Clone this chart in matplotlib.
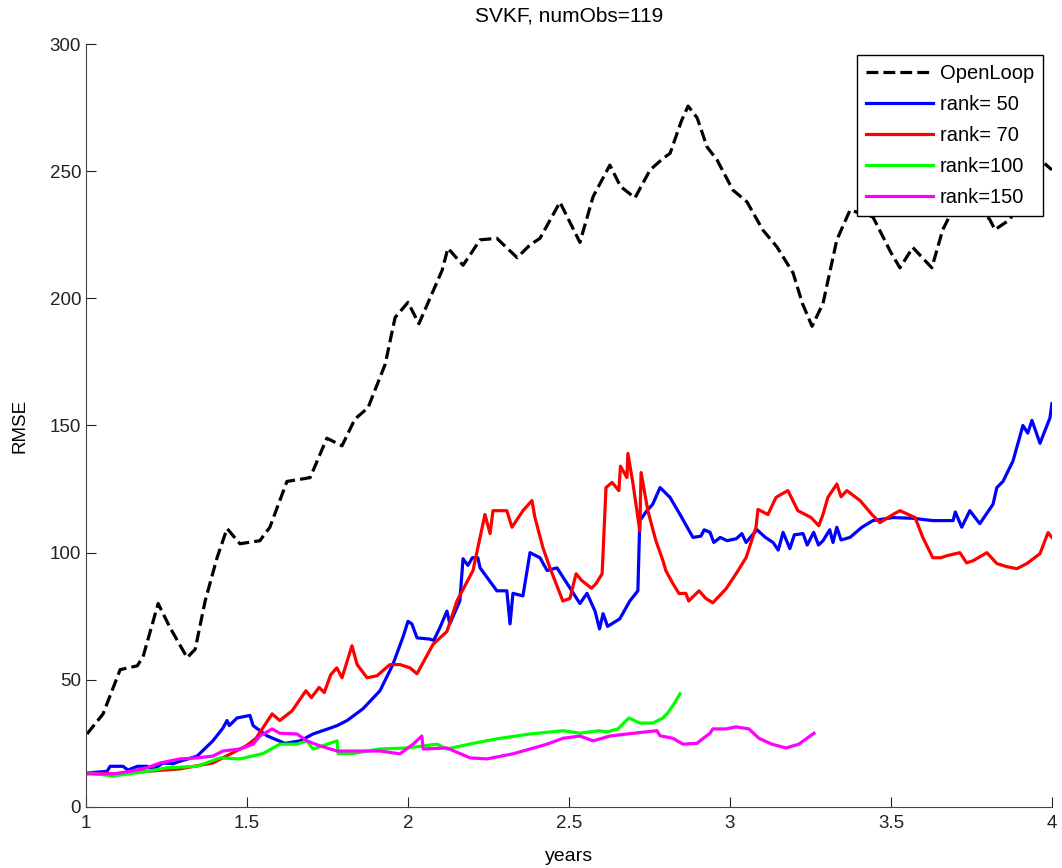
import matplotlib.pyplot as plt

plt.rcParams['font.family'] = ['Liberation Sans', 'DejaVu Sans']

# (years, RMSE) samples for each run
openloop = [(1.003, 28.7), (1.053, 36.6), (1.106, 54.0), (1.159, 55.5), (1.177, 59.0),
            (1.224, 80.0), (1.261, 70.5), (1.314, 58.7), (1.339, 62.0), (1.370, 81.0),
            (1.407, 98.0), (1.438, 109.5), (1.478, 103.5), (1.540, 104.7), (1.571, 110.0),
            (1.624, 128.0), (1.696, 129.5), (1.748, 145.0), (1.795, 142.0), (1.835, 152.5),
            (1.876, 157.0), (1.929, 174.0), (1.960, 192.5), (2.000, 198.4), (2.034, 190.0),
            (2.075, 202.0), (2.106, 211.0), (2.124, 219.7), (2.171, 213.0), (2.224, 223.0),
            (2.276, 223.6), (2.339, 216.0), (2.379, 221.0), (2.410, 223.6), (2.472, 237.8),
            (2.534, 222.0), (2.575, 240.0), (2.627, 252.4), (2.660, 244.0), (2.705, 239.5),
            (2.752, 250.5), (2.792, 255.0), (2.814, 257.0), (2.850, 270.0), (2.870, 275.6),
            (2.898, 271.0), (2.929, 259.5), (2.960, 254.4), (3.009, 242.6), (3.053, 237.9),
            (3.102, 226.9), (3.146, 220.2), (3.196, 210.0), (3.225, 198.0), (3.255, 189.0),
            (3.289, 198.0), (3.332, 223.0), (3.373, 234.7), (3.444, 232.0), (3.500, 218.0),
            (3.528, 212.0), (3.568, 220.0), (3.627, 212.0), (3.661, 227.0), (3.693, 235.0),
            (3.750, 239.0), (3.807, 231.0), (3.823, 227.0), (3.870, 231.0), (3.930, 246.0),
            (3.972, 253.6), (4.000, 250.5)]

rank50 = [(1.003, 13.4), (1.065, 14.0), (1.075, 16.0), (1.115, 16.0), (1.130, 14.5),
          (1.160, 16.0), (1.189, 16.0), (1.210, 14.8), (1.239, 17.3), (1.270, 17.0),
          (1.292, 18.0), (1.320, 19.0), (1.345, 20.0), (1.394, 26.0), (1.425, 31.0),
          (1.438, 34.0), (1.445, 32.0), (1.469, 35.0), (1.509, 36.0), (1.519, 32.0),
          (1.562, 28.0), (1.618, 25.0), (1.665, 26.0), (1.705, 28.7), (1.758, 31.0),
          (1.780, 32.0), (1.811, 34.0), (1.860, 38.6), (1.913, 45.7), (1.953, 56.0),
          (1.985, 67.0), (2.000, 73.0), (2.012, 72.0), (2.028, 66.5), (2.068, 66.0),
          (2.080, 65.5), (2.099, 70.5), (2.121, 77.0), (2.130, 72.0), (2.161, 81.0),
          (2.171, 97.6), (2.186, 95.0), (2.200, 98.0), (2.217, 98.0), (2.224, 94.0),
          (2.276, 85.0), (2.307, 85.0), (2.317, 72.0), (2.326, 84.0), (2.357, 83.0),
          (2.379, 100.0), (2.410, 98.0), (2.432, 93.0), (2.463, 94.0), (2.534, 80.0),
          (2.556, 84.0), (2.581, 77.0), (2.595, 70.0), (2.606, 76.0), (2.620, 71.0),
          (2.658, 74.0), (2.689, 81.0), (2.714, 85.0), (2.720, 112.6), (2.742, 116.5),
          (2.760, 119.0), (2.783, 125.6), (2.814, 121.7), (2.845, 115.0), (2.885, 106.0),
          (2.910, 106.5), (2.920, 109.0), (2.938, 108.0), (2.950, 104.0), (2.970, 106.0),
          (2.991, 104.7), (3.020, 105.5), (3.037, 107.5), (3.050, 104.0), (3.070, 107.0),
          (3.084, 109.0), (3.110, 106.0), (3.134, 104.0), (3.150, 101.0), (3.165, 108.0),
          (3.186, 101.6), (3.200, 107.0), (3.227, 107.5), (3.240, 103.0), (3.260, 108.0),
          (3.275, 103.0), (3.289, 104.7), (3.310, 109.0), (3.320, 104.0), (3.332, 110.0),
          (3.345, 105.0), (3.373, 106.0), (3.410, 110.0), (3.444, 112.6), (3.506, 113.8),
          (3.570, 113.5), (3.630, 112.6), (3.693, 112.6), (3.700, 116.0), (3.720, 110.0),
          (3.745, 116.5), (3.776, 111.4), (3.817, 119.0), (3.829, 125.6), (3.848, 128.0),
          (3.879, 136.0), (3.910, 150.0), (3.925, 147.0), (3.938, 152.0), (3.963, 143.0),
          (3.994, 153.0), (4.000, 158.6)]

rank70 = [(1.003, 13.4), (1.084, 13.0), (1.189, 14.0), (1.292, 15.0), (1.394, 17.3),
          (1.497, 24.0), (1.528, 27.0), (1.578, 36.6), (1.602, 34.0), (1.640, 37.8),
          (1.683, 45.7), (1.700, 43.0), (1.724, 47.0), (1.740, 45.0), (1.760, 52.0),
          (1.779, 54.7), (1.795, 50.8), (1.826, 63.4), (1.842, 56.0), (1.873, 50.8),
          (1.904, 51.6), (1.944, 56.0), (1.975, 56.0), (2.006, 54.7), (2.028, 52.4),
          (2.078, 64.0), (2.121, 69.0), (2.152, 81.0), (2.202, 93.0), (2.239, 115.0),
          (2.255, 107.5), (2.264, 116.5), (2.307, 116.5), (2.323, 110.0), (2.357, 116.5),
          (2.385, 120.5), (2.394, 114.0), (2.419, 102.0), (2.441, 94.0), (2.481, 81.0),
          (2.503, 82.0), (2.522, 91.7), (2.540, 89.0), (2.570, 86.0), (2.584, 87.8),
          (2.603, 91.7), (2.615, 125.6), (2.634, 127.6), (2.655, 124.4), (2.660, 134.0),
          (2.680, 129.5), (2.683, 139.0), (2.699, 127.0), (2.720, 108.6), (2.724, 131.5),
          (2.745, 116.5), (2.770, 104.7), (2.792, 96.8), (2.801, 92.9), (2.823, 87.8),
          (2.842, 83.9), (2.863, 84.0), (2.872, 81.0), (2.904, 85.0), (2.925, 82.0),
          (2.947, 80.3), (2.988, 85.8), (3.019, 91.7), (3.050, 98.0), (3.081, 110.0),
          (3.087, 117.0), (3.118, 115.0), (3.143, 121.7), (3.160, 123.0), (3.180, 124.4),
          (3.211, 116.5), (3.252, 113.8), (3.276, 110.6), (3.289, 115.0), (3.304, 121.7),
          (3.332, 127.0), (3.345, 122.0), (3.363, 124.4), (3.404, 120.5), (3.441, 115.0),
          (3.466, 111.8), (3.506, 115.0), (3.528, 116.5), (3.575, 113.8), (3.599, 106.0),
          (3.630, 98.0), (3.655, 98.0), (3.674, 98.8), (3.714, 100.0), (3.735, 96.0),
          (3.755, 96.8), (3.798, 100.0), (3.829, 95.7), (3.860, 94.5), (3.891, 93.7),
          (3.922, 95.7), (3.963, 99.6), (3.988, 107.9), (4.000, 106.0)]

rank100 = [(1.003, 13.4), (1.084, 12.2), (1.189, 14.0), (1.252, 15.4), (1.345, 16.0),
           (1.416, 19.3), (1.478, 18.9), (1.550, 21.0), (1.602, 24.7), (1.655, 24.7),
           (1.686, 26.0), (1.705, 22.8), (1.780, 26.0), (1.783, 21.0), (1.829, 21.0),
           (1.913, 22.8), (1.997, 23.2), (2.090, 24.7), (2.121, 22.8), (2.202, 25.0),
           (2.276, 26.8), (2.379, 28.7), (2.481, 30.0), (2.534, 29.0), (2.593, 30.0),
           (2.618, 29.5), (2.652, 30.7), (2.686, 35.0), (2.720, 33.0), (2.761, 33.0),
           (2.792, 35.0), (2.807, 37.0), (2.826, 40.5), (2.845, 44.5)]

rank150 = [(1.003, 13.0), (1.084, 13.0), (1.137, 14.0), (1.189, 15.4), (1.230, 17.3),
           (1.292, 18.9), (1.345, 19.3), (1.394, 20.0), (1.425, 22.0), (1.478, 22.8),
           (1.519, 24.7), (1.540, 27.9), (1.578, 30.7), (1.602, 29.0), (1.655, 28.7),
           (1.686, 26.0), (1.727, 24.0), (1.780, 22.0), (1.842, 22.0), (1.913, 22.0),
           (1.975, 20.9), (2.016, 24.7), (2.043, 27.9), (2.047, 22.8), (2.121, 23.2),
           (2.193, 19.3), (2.245, 18.9), (2.326, 20.9), (2.432, 24.7), (2.481, 27.0),
           (2.534, 27.9), (2.575, 26.0), (2.627, 27.9), (2.680, 28.7), (2.773, 30.0),
           (2.783, 28.0), (2.823, 27.0), (2.854, 24.7), (2.897, 25.0), (2.938, 29.0),
           (2.947, 30.7), (2.988, 30.7), (3.019, 31.5), (3.059, 30.7), (3.090, 27.0),
           (3.130, 24.7), (3.174, 23.2), (3.214, 24.7), (3.261, 29.0)]

series = [
    (openloop, 'OpenLoop', 'k', '--'),
    (rank50, 'rank= 50', '#0000ff', '-'),
    (rank70, 'rank= 70', '#ff0000', '-'),
    (rank100, 'rank=100', '#00ff00', '-'),
    (rank150, 'rank=150', '#ff00ff', '-'),
]

fig = plt.figure(figsize=(10.62, 8.68), dpi=100)
ax = fig.add_axes([0.081, 0.0703, 0.9095, 0.879])

for pts, label, color, ls in series:
    t, y = zip(*pts)
    ax.plot(t, y, color=color, ls=ls, lw=2.3, label=label)

ax.set_xlim(1, 4)
ax.set_ylim(0, 300)
ax.set_xticks([1, 1.5, 2, 2.5, 3, 3.5, 4])
ax.set_xticklabels(['1', '1.5', '2', '2.5', '3', '3.5', '4'])
ax.set_yticks([0, 50, 100, 150, 200, 250, 300])
ax.tick_params(direction='in', length=7, labelsize=13.5, colors='#222222')
ax.tick_params(axis='x', pad=6)
ax.spines['top'].set_visible(False)
ax.spines['right'].set_visible(False)
for s in ('left', 'bottom'):
    ax.spines[s].set_color('#444444')

ax.set_title('SVKF, numObs=119', fontsize=15, pad=16)
ax.set_xlabel('years', fontsize=14, labelpad=11)
ax.set_ylabel('RMSE', fontsize=13.5, labelpad=15)

leg = ax.legend(loc='upper right', bbox_to_anchor=(0.9907, 0.9856), fontsize=14.5,
                fancybox=False, framealpha=1, edgecolor='black', borderaxespad=0,
                handlelength=3.3, handletextpad=0.35, borderpad=0.45,
                labelspacing=0.6)
leg.get_frame().set_linewidth(1.0)

fig.savefig('out.png', dpi=100)
